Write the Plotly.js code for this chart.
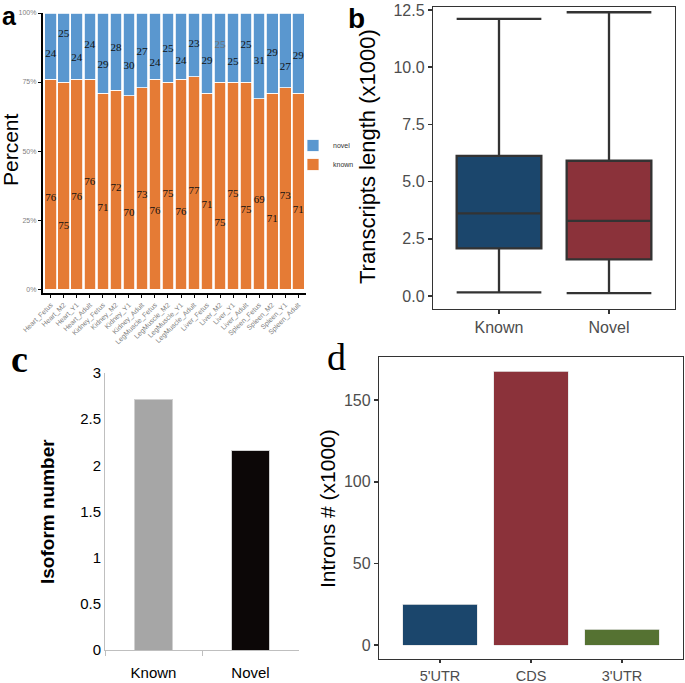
<!DOCTYPE html>
<html><head><meta charset="utf-8">
<script src="https://cdn.plot.ly/plotly-3.0.1.min.js"></script>
<style>html,body{margin:0;padding:0;background:#fff}</style>
</head><body><div id="chart" style="width:685px;height:683px"></div>
<script>
// ---- Panel a: percent of known / novel transcripts per sample ----
const samples = ['Heart_Fetus','Heart_M2','Heart_Y1','Heart_Adult','Kidney_Fetus','Kidney_M2','Kidney_Y1','Kidney_Adult',
  'LegMuscle_Fetus','LegMuscle_M2','LegMuscle_Y1','LegMuscle_Adult','Liver_Fetus','Liver_M2','Liver_Y1','Liver_Adult',
  'Spleen_Fetus','Spleen_M2','Spleen_Y1','Spleen_Adult'];
const knownPct = [76,75,76,76,71,72,70,73,76,75,76,77,71,75,75,75,69,71,73,71];
const novelPct = [24,25,24,24,29,28,30,27,24,25,24,23,29,25,25,25,31,29,27,29];
// heights (in %) at which the value labels sit in the picture
const novelLabelAt = [85.1,92.4,83.7,88.4,81.2,87.3,80.8,85.9,81.9,87.0,82.6,88.8,82.6,88.4,82.2,88.4,82.6,85.5,80.4,84.4];
const knownLabelAt = [33.0,22.8,33.3,38.8,29.3,36.6,27.5,34.0,28.3,34.4,27.9,35.5,30.4,23.9,34.4,28.6,32.2,25.4,33.7,28.6];
const pctTicks = [0,25,50,75,100];
const pctTickText = ['0%','25%','50%','75%','100%'];

// ---- Panel b: transcript length (x1000) box statistics ----
const lengthGroups = ['Known','Novel'];
const lengthLowerFence = [0.16, 0.12];
const lengthQ1 = [2.08, 1.60];
const lengthMedian = [3.61, 3.28];
const lengthQ3 = [6.12, 5.91];
const lengthUpperFence = [12.11, 12.40];

// ---- Panel c: isoform number ----
const isoformGroups = ['Known','Novel'];
const isoformNumber = [2.71, 2.16];

// ---- Panel d: introns (x1000) ----
const intronRegions = ["5'UTR","CDS","3'UTR"];
const intronCounts = [25.0, 167.7, 9.8];

const W = 685, H = 683;
const px = x => x / W;
const py = y => 1 - y / H;
const SANS = 'Liberation Sans, Arial, sans-serif';
const SERIF = 'Liberation Serif, Times New Roman, serif';

const traces = [
  {type:'bar', name:'known', x:samples, y:knownPct, xaxis:'x', yaxis:'y', width:0.9,
   marker:{color:'#E57B35', line:{color:'#ffffff', width:0.8}}, hoverinfo:'skip'},
  {type:'bar', name:'novel', x:samples, y:novelPct, xaxis:'x', yaxis:'y', width:0.9,
   marker:{color:'#5A97CF', line:{color:'#ffffff', width:0.8}}, hoverinfo:'skip'},
  {type:'scatter', mode:'text', x:samples, y:novelLabelAt, text:novelPct.map(String), xaxis:'x', yaxis:'y',
   textfont:{family:SERIF, size:11, color:samples.map(s => s === 'Liver_M2' ? '#6e6e6e' : '#111')},
   showlegend:false, hoverinfo:'skip'},
  {type:'scatter', mode:'text', x:samples, y:knownLabelAt, text:knownPct.map(String), xaxis:'x', yaxis:'y',
   textfont:{family:SERIF, size:11, color:'#111'}, showlegend:false, hoverinfo:'skip'},
];

const boxColors = ['#1B466C', '#8B323A'];
lengthGroups.forEach((g, i) => {
  traces.push({type:'box', x:[g], q1:[lengthQ1[i]], median:[lengthMedian[i]], q3:[lengthQ3[i]],
    lowerfence:[lengthLowerFence[i]], upperfence:[lengthUpperFence[i]],
    whiskerwidth:1, width:0.77, boxpoints:false, fillcolor:boxColors[i],
    line:{color:'#333333', width:2.3}, xaxis:'x2', yaxis:'y2', showlegend:false, hoverinfo:'skip'});
});

traces.push({type:'bar', x:isoformGroups, y:isoformNumber, xaxis:'x3', yaxis:'y3', width:0.39,
  marker:{color:['#A6A6A6','#0C0707'], line:{color:'#D0D0D0', width:1}}, showlegend:false, hoverinfo:'skip'});

traces.push({type:'bar', x:intronRegions, y:intronCounts, xaxis:'x4', yaxis:'y4', width:0.82,
  marker:{color:['#1B466C','#8B323A','#557232'], line:{color:'#e6e6e6', width:0.8}}, showlegend:false, hoverinfo:'skip'});

const ggBox = {showline:true, mirror:true, linecolor:'#333333', linewidth:1.2, ticks:'outside', ticklen:4,
  tickcolor:'#333333', tickwidth:1.6, tickfont:{family:SANS, size:16, color:'#4d4d4d'}, showgrid:false, zeroline:false};

const ann = (x, y, text, size, opts) => Object.assign({xref:'paper', yref:'paper', x:px(x), y:py(y), text:text,
  showarrow:false, xanchor:'center', yanchor:'middle', font:{family:SANS, size:size, color:'#000'}}, opts || {});

const layout = {
  width:W, height:H, margin:{l:0, r:0, t:0, b:0}, paper_bgcolor:'#fff', plot_bgcolor:'rgba(0,0,0,0)',
  barmode:'stack', boxmode:'overlay', font:{family:SANS},
  showlegend:true,
  legend:{x:px(293), y:py(131), xanchor:'left', yanchor:'top', traceorder:'reversed', font:{family:SANS, size:7, color:'#333'},
    bgcolor:'rgba(0,0,0,0)', tracegroupgap:0, itemwidth:30},
  xaxis:{domain:[px(43), px(306)], range:[-0.6, 19.6], type:'category', anchor:'y', showline:true, linecolor:'#000', linewidth:2.2,
    ticks:'outside', ticklen:3, tickcolor:'#000', tickwidth:1, tickangle:-45,
    tickfont:{family:SANS, size:7, color:'#7f7f7f'}, showgrid:false, zeroline:false},
  yaxis:{domain:[py(293), py(13)], range:[-1.4, 100], anchor:'x', tickvals:pctTicks, ticktext:pctTickText,
    showline:true, linecolor:'#000', linewidth:2.2, ticks:'outside', ticklen:3, tickcolor:'#000', tickwidth:1,
    tickfont:{family:SANS, size:7, color:'#7f7f7f'}, showgrid:false, zeroline:false},
  xaxis2:Object.assign({}, ggBox, {domain:[px(433), px(675)], range:[-0.6, 1.6], type:'category', anchor:'y2',
    categoryorder:'array', categoryarray:lengthGroups}),
  yaxis2:Object.assign({}, ggBox, {domain:[py(309), py(7)], range:[-0.57, 12.63], anchor:'x2', tick0:0, dtick:2.5, tickformat:'.1f'}),
  xaxis3:{domain:[px(105), px(299)], range:[-0.5, 1.5], type:'category', anchor:'y3', showline:true, linecolor:'#bfbfbf',
    linewidth:1, ticks:'outside', tickson:'boundaries', ticklen:5, tickcolor:'#bfbfbf', tickwidth:1, ticklabelstandoff:9,
    tickfont:{family:SANS, size:15, color:'#000'}, showgrid:false, zeroline:false},
  yaxis3:{domain:[py(650), py(373)], range:[0, 3], anchor:'x3', tick0:0, dtick:0.5, showline:true, linecolor:'#bfbfbf',
    linewidth:1, ticks:'', tickfont:{family:SANS, size:15, color:'#000'}, showgrid:false, zeroline:false},
  xaxis4:Object.assign({}, ggBox, {domain:[px(379), px(683)], range:[-0.67, 2.67], type:'category', anchor:'y4',
    ticklen:3, tickfont:{family:SANS, size:14.5, color:'#4d4d4d'}}),
  yaxis4:Object.assign({}, ggBox, {domain:[py(659), py(357)], range:[-8.4, 176.4], anchor:'x4', tick0:0, dtick:50}),
  annotations:[
    ann(9, 16, '<b>a</b>', 25),
    ann(11, 150, 'Percent', 21, {textangle:-90}),
    ann(356, 18, '<b>b</b>', 28),
    ann(367, 157, 'Transcripts length (x1000)', 22, {textangle:-90}),
    ann(19, 359, '<b>c</b>', 38, {font:{family:SERIF, size:38, color:'#000'}}),
    ann(47, 512, '<b>Isoform number</b>', 19, {textangle:-90}),
    ann(336, 357, 'd', 38, {font:{family:SERIF, size:38, color:'#000'}}),
    ann(327, 509, 'Introns # (x1000)', 21, {textangle:-90}),
  ]
};

Plotly.newPlot('chart', traces, layout, {staticPlot:true, displayModeBar:false});
</script>
</body></html>
